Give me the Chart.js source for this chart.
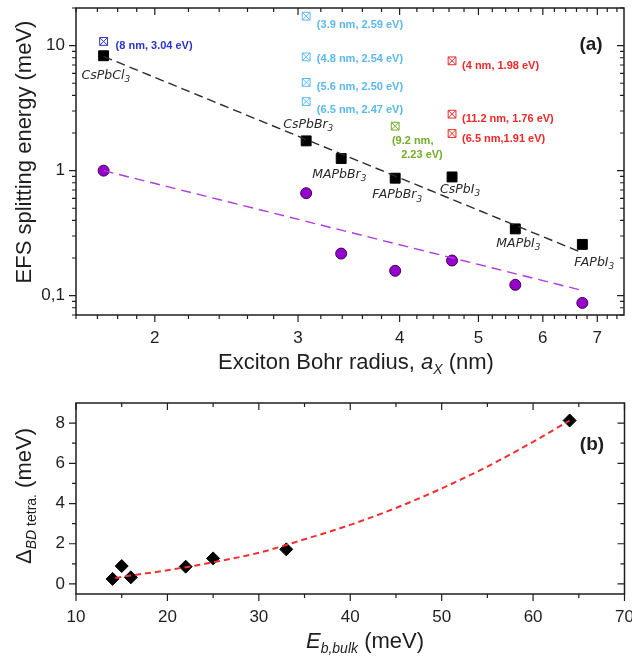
<!DOCTYPE html>
<html>
<head>
<meta charset="utf-8">
<script src="https://cdn.jsdelivr.net/npm/chart.js@4.4.1/dist/chart.umd.min.js"></script>
<style>
  html, body { margin: 0; padding: 0; background: #fff; }
  #wrap { position: relative; width: 632px; height: 658px; }
  #topBox { position: absolute; left: 0; top: 0; width: 632px; height: 380px; }
  #botBox { position: absolute; left: 0; top: 380px; width: 632px; height: 278px; }
</style>
</head>
<body>
<div id="wrap">
  <div id="topBox"><canvas id="chartA"></canvas></div>
  <div id="botBox"><canvas id="chartB"></canvas></div>
</div>
<script>
/* ---- panel (a) data ---- */
const compounds = ['CsPbCl', 'CsPbBr', 'MAPbBr', 'FAPbBr', 'CsPbI', 'MAPbI', 'FAPbI'];
const bohrRadius = [1.73, 3.07, 3.39, 3.95, 4.64, 5.55, 6.71];
const efsBulk = [8.3, 1.73, 1.25, 0.87, 0.89, 0.342, 0.257];
const efsCalc = [1.0, 0.66, 0.217, 0.158, 0.191, 0.122, 0.0875];
const fitX = [1.73, 6.71];
const fitBulk = [8.2, 0.22];
const fitCalc = [1.0, 0.11];

// quantum dot points (open markers) and their labels
const qdClX = [1.73], qdClY = [10.8], qdClText = ['(8 nm, 3.04 eV)'];
const qdBrX = [3.07, 3.07, 3.07, 3.07], qdBrY = [17.2, 8.13, 5.08, 3.57];
const qdBrText = ['(3.9 nm, 2.59 eV)', '(4.8 nm, 2.54 eV)', '(5.6 nm, 2.50 eV)', '(6.5 nm, 2.47 eV)'];
const qdFaX = [3.95], qdFaY = [2.27], qdFaText = ['(9.2 nm,', '2.23 eV)'];
const qdIX = [4.64, 4.64, 4.64], qdIY = [7.56, 2.83, 1.98];
const qdIText = ['(4 nm, 1.98 eV)', '(11.2 nm, 1.76 eV)', '(6.5 nm,1.91 eV)'];

const xTicksA = [2, 3, 4, 5, 6, 7];
const yTicksA = [0.1, 1, 10];

/* ---- panel (b) data ---- */
const ebBulk = [14, 15, 16, 22, 25, 33, 64];
const deltaBD = [0.25, 0.89, 0.33, 0.86, 1.27, 1.72, 8.13];
const fitEb = [14.3, 16, 20, 25, 30, 35, 40, 45, 50, 55, 60, 64];
const fitDelta = [0.30, 0.42, 0.68, 1.08, 1.55, 2.22, 2.94, 3.78, 4.75, 5.84, 7.07, 8.13];

const F = "'Liberation Sans', Arial, sans-serif";
const INK = '#1e1e1e';

function pts(xs, ys) {
  return xs.map((v, i) => ({ x: v, y: ys[i] }));
}

// draw a run of text pieces with different fonts / baseline shifts
function richText(ctx, parts, x, y, align) {
  let w = 0;
  parts.forEach(p => { ctx.font = p.font; w += ctx.measureText(p.t).width; });
  let cx = align === 'center' ? x - w / 2 : x;
  ctx.textAlign = 'left';
  parts.forEach(p => {
    ctx.font = p.font;
    ctx.fillText(p.t, cx, y + (p.dy || 0));
    cx += ctx.measureText(p.t).width;
  });
}

// keep the plot box where it is in the picture
function noPad(s) {
  s.paddingTop = 0; s.paddingBottom = 0;
  s.paddingLeft = 0; s.paddingRight = 0;
}

/* frame with minor / major ticks: out on bottom/left, in on top/right */
function frameTicks(xMaj, xMin, yMaj, yMin) {
  return {
    id: 'frameTicks',
    afterDraw(chart) {
      const { ctx, chartArea: a } = chart;
      const sx = chart.scales.x, sy = chart.scales.y;
      ctx.save();
      ctx.strokeStyle = INK;
      ctx.lineWidth = 1.5;
      ctx.strokeRect(a.left, a.top, a.right - a.left, a.bottom - a.top);
      ctx.lineWidth = 1.2;
      ctx.beginPath();
      const doX = (vals, len) => vals.forEach(v => {
        const p = sx.getPixelForValue(v);
        if (p < a.left - 0.5 || p > a.right + 0.5) return;
        ctx.moveTo(p, a.bottom); ctx.lineTo(p, a.bottom + len);
        ctx.moveTo(p, a.top); ctx.lineTo(p, a.top + len);
      });
      const doY = (vals, len) => vals.forEach(v => {
        const p = sy.getPixelForValue(v);
        if (p < a.top - 0.5 || p > a.bottom + 0.5) return;
        ctx.moveTo(a.left, p); ctx.lineTo(a.left - len, p);
        ctx.moveTo(a.right, p); ctx.lineTo(a.right - len, p);
      });
      doX(xMaj, 7); doX(xMin, 4);
      doY(yMaj, 7); doY(yMin, 4);
      ctx.stroke();
      ctx.restore();
    }
  };
}

// minor tick values for the log axes
const xMinorA = [];
[1.6, 1.7, 1.8, 1.9].forEach(v => xMinorA.push(v));
for (let v = 2.2; v < 7.6; v += 0.2) {
  if (Math.abs(v - Math.round(v)) > 0.01) xMinorA.push(v);
}
const yMinorA = [];
[0.01, 0.1, 1, 10].forEach(d => {
  for (let k = 2; k <= 9; k++) yMinorA.push(k * d);
});

/* labels of panel (a) */
const labelsA = {
  id: 'labelsA',
  afterDraw(chart) {
    const { ctx } = chart;
    const sx = chart.scales.x, sy = chart.scales.y;
    ctx.save();
    ctx.textBaseline = 'middle';
    ctx.textAlign = 'left';

    // compound names next to the black squares
    const nudge = [[-22, 20], [-23, -16], [-29, 16], [-23, 17], [-12, 13], [-19, 15], [-8, 18]];
    ctx.fillStyle = '#2a2a2a';
    compounds.forEach((name, i) => {
      const px = sx.getPixelForValue(bohrRadius[i]) + nudge[i][0];
      const py = sy.getPixelForValue(efsBulk[i]) + nudge[i][1];
      richText(ctx, [
        { t: name, font: 'italic 12.5px "DejaVu Sans"' },
        { t: '3', font: 'italic 9px "DejaVu Sans"', dy: 4 }
      ], px, py, 'left');
    });

    // nanocrystal labels
    const put = (xs, ys, texts, color, dx, dys) => {
      ctx.fillStyle = color;
      ctx.font = 'bold 11px ' + F;
      texts.forEach((t, i) => {
        ctx.fillText(t, sx.getPixelForValue(xs[i]) + dx, sy.getPixelForValue(ys[i]) + dys[i]);
      });
    };
    put(qdClX, qdClY, qdClText, '#2a35c9', 12, [5]);
    put(qdBrX, qdBrY, qdBrText, '#5bb8ef', 10.7, [8.4, 2.4, 5, 8]);
    put(qdIX, qdIY, qdIText, '#f02828', 10, [5, 4.7, 5]);
    ctx.fillStyle = '#72ad2a';
    const gx = sx.getPixelForValue(qdFaX[0]), gy = sy.getPixelForValue(qdFaY[0]);
    ctx.fillText(qdFaText[0], gx - 3.3, gy + 15.3);
    ctx.fillText(qdFaText[1], gx + 6, gy + 28.7);

    // panel tag
    ctx.fillStyle = INK;
    ctx.textAlign = 'center';
    ctx.font = 'bold 19px ' + F;
    ctx.fillText('(a)', 591, 45);

    // axis titles
    ctx.textBaseline = 'alphabetic';
    ctx.fillStyle = INK;
    richText(ctx, [
      { t: 'Exciton Bohr radius, ', font: '22px ' + F },
      { t: 'a', font: 'italic 22px ' + F },
      { t: 'X', font: 'italic 14px ' + F, dy: 5 },
      { t: ' (nm)', font: '22px ' + F }
    ], 356, 369, 'center');

    ctx.translate(31, 152);
    ctx.rotate(-Math.PI / 2);
    ctx.textAlign = 'center';
    ctx.font = '22px ' + F;
    ctx.fillText('EFS splitting energy (meV)', 0, 0);
    ctx.restore();
  }
};

const tickFont = { family: F, size: 17 };

function openBox(xs, ys, color) {
  const d = pts(xs, ys);
  return [
    { data: d, pointStyle: 'rect', pointRadius: 5.5, borderColor: color, backgroundColor: 'rgba(0,0,0,0)', pointBorderWidth: 1, showLine: false, clip: false },
    { data: d, pointStyle: 'crossRot', pointRadius: 5.5, borderColor: color, pointBorderWidth: 1, showLine: false, clip: false }
  ];
}

new Chart(document.getElementById('chartA'), {
  type: 'scatter',
  data: {
    datasets: [
      { data: pts(fitX, fitBulk), showLine: true, pointRadius: 0, borderColor: '#2b2b2b', borderWidth: 1.4, borderDash: [9, 5] },
      { data: pts(fitX, fitCalc), showLine: true, pointRadius: 0, borderColor: '#b03ae0', borderWidth: 1.4, borderDash: [10, 6] },
      { data: pts(bohrRadius, efsBulk), pointStyle: 'rect', pointRadius: 7, backgroundColor: '#000', borderColor: '#000', clip: false },
      { data: pts(bohrRadius, efsCalc), pointStyle: 'circle', pointRadius: 5.5, backgroundColor: '#9500cc', borderColor: '#3d0050', pointBorderWidth: 1, clip: false },
      ...openBox(qdClX, qdClY, '#2a35c9'),
      ...openBox(qdBrX, qdBrY, '#5bb8ef'),
      ...openBox(qdFaX, qdFaY, '#72ad2a'),
      ...openBox(qdIX, qdIY, '#f02828')
    ]
  },
  options: {
    responsive: true,
    maintainAspectRatio: false,
    animation: false,
    layout: { padding: { left: 0, right: 7, top: 5, bottom: 0 } },
    plugins: { legend: { display: false }, tooltip: { enabled: false } },
    scales: {
      x: {
        type: 'logarithmic', min: 1.6, max: 7.55,
        grid: { display: false, drawTicks: false },
        border: { display: false },
        afterBuildTicks: s => { s.ticks = xTicksA.map(v => ({ value: v })); },
        afterFit: s => { s.height = 65; noPad(s); },
        ticks: { autoSkip: false, maxRotation: 0, padding: 13, color: INK, font: tickFont, callback: v => String(v) }
      },
      y: {
        type: 'logarithmic', min: 0.07, max: 20,
        grid: { display: false, drawTicks: false },
        border: { display: false },
        afterBuildTicks: s => { s.ticks = yTicksA.map(v => ({ value: v })); },
        afterFit: s => { s.width = 76; noPad(s); },
        ticks: { autoSkip: false, padding: 11, color: INK, font: tickFont, callback: v => String(v).replace('.', ',') }
      }
    }
  },
  plugins: [frameTicks(xTicksA, xMinorA, yTicksA, yMinorA), labelsA]
});

/* ---- panel (b) ---- */
const xTicksB = [10, 20, 30, 40, 50, 60, 70];
const xMinorB = [15, 25, 35, 45, 55, 65];
const yTicksB = [0, 2, 4, 6, 8];
const yMinorB = [1, 3, 5, 7];

const labelsB = {
  id: 'labelsB',
  afterDraw(chart) {
    const { ctx } = chart;
    ctx.save();
    ctx.fillStyle = INK;
    ctx.textAlign = 'center';
    ctx.textBaseline = 'middle';
    ctx.font = 'bold 19px ' + F;
    ctx.fillText('(b)', 592, 65);

    ctx.textBaseline = 'alphabetic';
    richText(ctx, [
      { t: 'E', font: 'italic 22px ' + F },
      { t: 'b,bulk', font: 'italic 14px ' + F, dy: 5 },
      { t: ' (meV)', font: '22px ' + F }
    ], 365, 268, 'center');

    ctx.translate(31, 116);
    ctx.rotate(-Math.PI / 2);
    richText(ctx, [
      { t: '\u0394', font: '22px ' + F },
      { t: 'BD', font: 'italic 14px ' + F, dy: 5 },
      { t: ' tetra.', font: '14px ' + F, dy: 5 },
      { t: ' (meV)', font: '22px ' + F }
    ], 0, 0, 'center');
    ctx.restore();
  }
};

new Chart(document.getElementById('chartB'), {
  type: 'scatter',
  data: {
    datasets: [
      { data: pts(fitEb, fitDelta), showLine: true, pointRadius: 0, borderColor: '#f03030', borderWidth: 2, borderDash: [6, 4], cubicInterpolationMode: 'monotone' },
      { data: pts(ebBulk, deltaBD), pointStyle: 'rectRot', pointRadius: 6.5, backgroundColor: '#000', borderColor: '#000', clip: false }
    ]
  },
  options: {
    responsive: true,
    maintainAspectRatio: false,
    animation: false,
    layout: { padding: { left: 0, right: 7, top: 23, bottom: 0 } },
    plugins: { legend: { display: false }, tooltip: { enabled: false } },
    scales: {
      x: {
        type: 'linear', min: 10, max: 70,
        grid: { display: false, drawTicks: false },
        border: { display: false },
        afterBuildTicks: s => { s.ticks = xTicksB.map(v => ({ value: v })); },
        afterFit: s => { s.height = 64; noPad(s); },
        ticks: { autoSkip: false, maxRotation: 0, padding: 13, color: INK, font: tickFont }
      },
      y: {
        type: 'linear', min: -0.5, max: 9,
        grid: { display: false, drawTicks: false },
        border: { display: false },
        afterBuildTicks: s => { s.ticks = yTicksB.map(v => ({ value: v })); },
        afterFit: s => { s.width = 76; noPad(s); },
        ticks: { autoSkip: false, padding: 11, color: INK, font: tickFont }
      }
    }
  },
  plugins: [frameTicks(xTicksB, xMinorB, yTicksB, yMinorB), labelsB]
});
</script>
</body>
</html>
